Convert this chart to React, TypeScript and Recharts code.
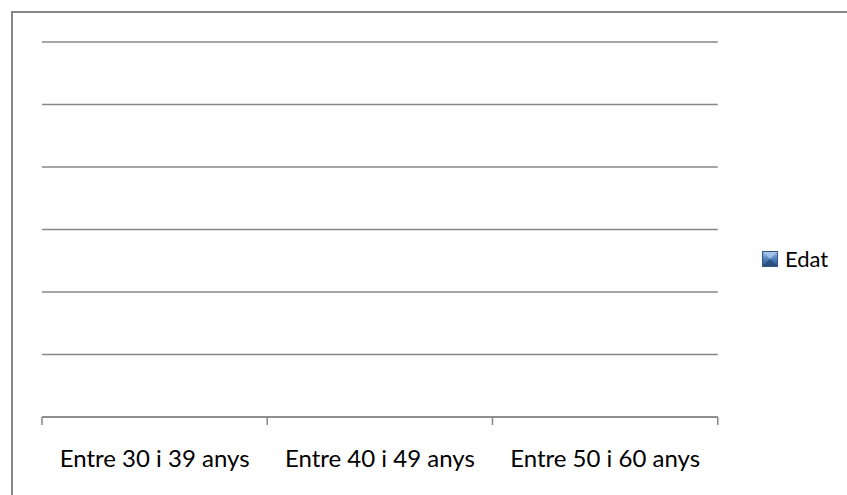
import React from 'react';
import { BarChart, Bar, XAxis, YAxis, CartesianGrid, Legend } from 'recharts';

// Age groups shown along the category axis
const categories = ['Entre 30 i 39 anys', 'Entre 40 i 49 anys', 'Entre 50 i 60 anys'];
// Series values (no counts recorded for any group)
const edatValues = [0, 0, 0];
// Value-axis ticks used for the horizontal gridlines
const yTicks = [0, 1, 2, 3, 4, 5, 6];

const SERIES_NAME = 'Edat';
const GRID = '#878787';
const FONT = 'Lato, Carlito, Calibri, sans-serif';

const data = categories.map((category, i) => ({ category, [SERIES_NAME]: edatValues[i] }));

// Category label plus tick marks placed on the band boundaries
const CategoryTick = (props: any) => {
  const { x, y, payload, index } = props;
  const half = payload?.offset ?? 0;
  const isLast = index === categories.length - 1;
  return (
    <g>
      <line x1={x - half} x2={x - half} y1={y} y2={y + 8} stroke={GRID} strokeWidth={1.5} />
      {isLast && <line x1={x + half} x2={x + half} y1={y} y2={y + 8} stroke={GRID} strokeWidth={1.5} />}
      <text x={x} y={y + 50} textAnchor="middle" fill="#000" fontFamily={FONT} fontSize={24}>
        {payload.value}
      </text>
    </g>
  );
};

const LegendContent = (props: any) => {
  const items = props.payload || [];
  return (
    <div style={{ display: 'flex', flexDirection: 'column' }}>
      {items.map((item: any) => (
        <div key={item.value} style={{ display: 'flex', alignItems: 'center', fontFamily: FONT, fontSize: 22, color: '#000', lineHeight: '26px' }}>
          <svg width={16} height={16} style={{ marginRight: 7 }}>
            <defs>
              <linearGradient id="legendFill" x1="0" y1="0" x2="0" y2="1">
                <stop offset="0" stopColor="#9cbfe9" />
                <stop offset="0.5" stopColor="#4f81bd" />
                <stop offset="1" stopColor="#2c5382" />
              </linearGradient>
            </defs>
            <rect x={0.5} y={0.5} width={15} height={15} fill="url(#legendFill)" stroke="#2f5889" />
            <polygon points="1,1 15,1 8,8" fill="#a9c8ee" opacity={0.8} />
            <polygon points="1,15 15,15 8,8" fill="#244a78" opacity={0.8} />
          </svg>
          <span>{item.value}</span>
        </div>
      ))}
    </div>
  );
};

export default function App() {
  return (
    <div style={{ position: 'absolute', left: 0, top: 0, width: 847, height: 495, overflow: 'hidden', background: '#fff' }}>
      <div
        style={{
          position: 'absolute',
          left: 11,
          top: 11,
          width: 900,
          height: 600,
          border: `2px solid ${GRID}`,
          boxSizing: 'border-box',
        }}
      />
      <div style={{ position: 'absolute', left: 0, top: 0 }}>
        <BarChart width={847} height={495} data={data} margin={{ top: 42, right: 63, left: 42, bottom: 0 }}>
          <CartesianGrid vertical={false} stroke={GRID} strokeWidth={1.5} />
          <XAxis
            dataKey="category"
            height={78}
            axisLine={{ stroke: GRID, strokeWidth: 1.5 }}
            tickLine={false}
            tickSize={0}
            tickMargin={0}
            interval={0}
            tick={<CategoryTick />}
          />
          <YAxis hide width={0} domain={[0, 6]} ticks={yTicks} />
          <Legend
            layout="horizontal"
            verticalAlign="middle"
            align="right"
            content={<LegendContent />}
            wrapperStyle={{ left: 762, top: 246, width: 'auto' }}
          />
          <Bar dataKey={SERIES_NAME} fill="#4f81bd" isAnimationActive={false} />
        </BarChart>
      </div>
    </div>
  );
}
